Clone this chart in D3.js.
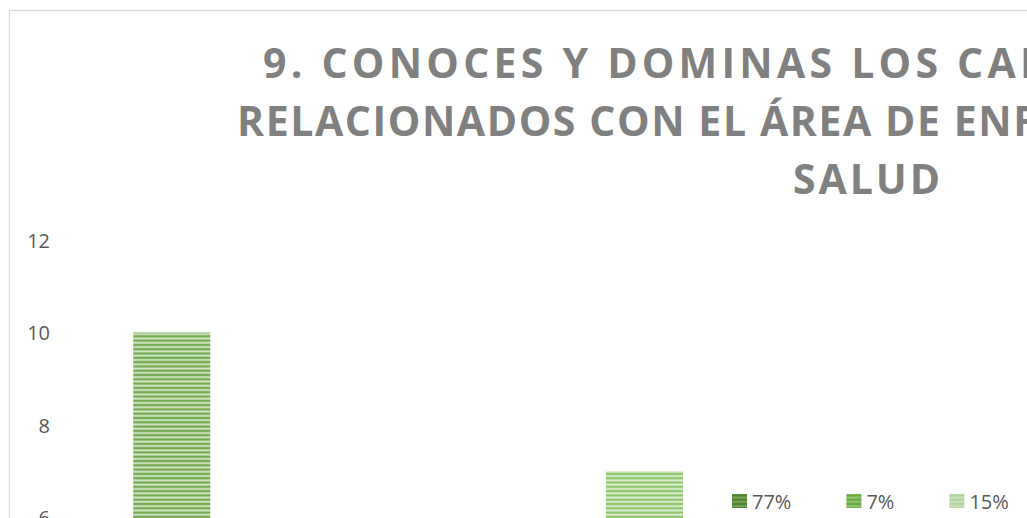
<!DOCTYPE html>
<html><head><meta charset="utf-8">
<script src="https://cdn.jsdelivr.net/npm/d3@7"></script>
<style>html,body{margin:0;padding:0;background:#fff;overflow:hidden}svg{display:block}</style>
</head><body>
<script>
// ---- data ----
const titleLines = ["9. CONOCES Y DOMINAS LOS CAMPOS Y CONCEPTOS", "RELACIONADOS CON EL ÁREA DE ENFERMERÍA Y DE LA", "SALUD"];
const series = ["77%", "7%", "15%"];
const values = [10, 7, 2];
const yTicks = [0, 2, 4, 6, 8, 10, 12];

const W = 1027, H = 518;
const svg = d3.select("body").append("svg").attr("width", W).attr("height", H);
const defs = svg.append("defs");

const palette = {
  "77%": {bar: ["#74aa51", "#d3e6c7"], key: ["#4f7f31", "#76a656"]},
  "7%":  {bar: ["#8dc56a", "#e0f0d6"], key: ["#6aa843", "#93c774"]},
  "15%": {bar: ["#b0d29a", "#e6f1de"], key: ["#b2d29d", "#cbe2bc"]}
};
function makePattern(id, c) {
  const g = defs.append("linearGradient").attr("id", id + "g").attr("x1", 0).attr("y1", 0).attr("x2", 0).attr("y2", 1);
  g.append("stop").attr("offset", 0).attr("stop-color", c[0]);
  g.append("stop").attr("offset", 0.3).attr("stop-color", c[0]);
  g.append("stop").attr("offset", 0.65).attr("stop-color", c[1]);
  g.append("stop").attr("offset", 0.85).attr("stop-color", c[1]);
  g.append("stop").attr("offset", 1).attr("stop-color", c[0]);
  const p = defs.append("pattern").attr("id", id).attr("patternUnits", "userSpaceOnUse")
    .attr("width", 8).attr("height", 4.3);
  p.append("rect").attr("width", 8).attr("height", 4.3).attr("fill", `url(#${id}g)`);
}
series.forEach((s, i) => { makePattern("bar" + i, palette[s].bar); makePattern("key" + i, palette[s].key); });

// chart border
svg.append("rect").attr("x", 9.5).attr("y", 10.5).attr("width", 1800).attr("height", 900)
  .attr("fill", "none").attr("stroke", "#d9d9d9").attr("stroke-width", 1.3);

// title
const titleFont = "'Open Sans', sans-serif";
const titleSpecs = [
  {x: 263, y: 77.5, fitText: "9. CONOCES Y DOMINAS LOS", fitW: 675},
  {x: 237, y: 135.5, fitText: "RELACIONADOS CON EL ÁREA DE", fitW: 703},
  {x: 793, y: 193.5, fitText: "SALUD", fitW: 147}
];
titleLines.forEach((line, i) => {
  const s = titleSpecs[i];
  const probe = svg.append("text").attr("font-family", titleFont).attr("font-weight", 700)
    .attr("font-size", 41).text(s.fitText);
  const w0 = probe.node().getComputedTextLength();
  probe.remove();
  const ls = (s.fitW - w0) / (s.fitText.length - 1);
  svg.append("text").attr("x", s.x).attr("y", s.y)
    .attr("font-family", titleFont).attr("font-weight", 700).attr("font-size", 41)
    .attr("letter-spacing", ls).attr("fill", "#808080").text(line);
});

// scales
const y = d3.scaleLinear().domain([0, 12]).range([795, 240]);
const x = d3.scaleBand().domain(series).range([-64.6, 1353.5]).paddingInner(0.837).paddingOuter(0.4185);

// y axis (labels only)
const yAxis = d3.axisLeft(y).tickValues(yTicks).tickSize(0).tickPadding(0);
const ya = svg.append("g").attr("transform", "translate(50,0)").call(yAxis);
ya.select(".domain").remove();
ya.selectAll("text").attr("font-family", "'Open Sans', sans-serif").attr("font-size", 20)
  .attr("fill", "#595959").attr("dy", "0.36em");

// bars
svg.append("g").selectAll("rect").data(series).join("rect")
  .attr("x", d => x(d)).attr("width", x.bandwidth())
  .attr("y", (d, i) => y(values[i])).attr("height", (d, i) => y(0) - y(values[i]))
  .attr("fill", (d, i) => `url(#bar${i})`);

// legend
const lg = svg.append("g");
let lx = 732;
series.forEach((s, i) => {
  lg.append("rect").attr("x", lx).attr("y", 494).attr("width", 15).attr("height", 14)
    .attr("fill", `url(#key${i})`);
  const t = lg.append("text").attr("x", lx + 20).attr("y", 508.5)
    .attr("font-family", "'Open Sans', sans-serif").attr("font-size", 20).attr("fill", "#595959").text(s);
  lx += 20 + t.node().getComputedTextLength() + 55;
});
</script>
</body></html>
